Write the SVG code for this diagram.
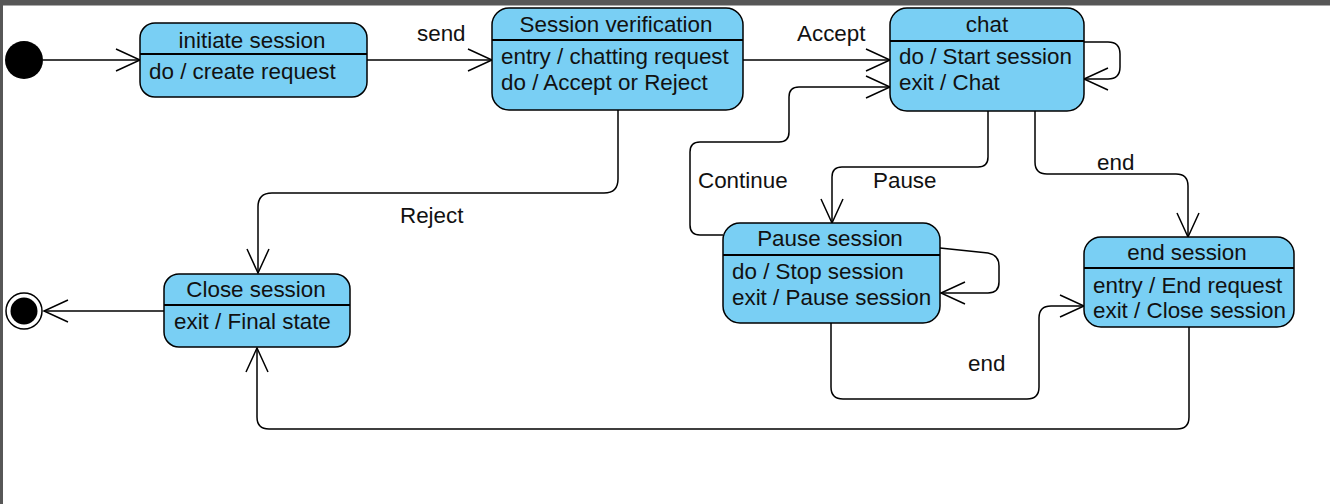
<svg xmlns="http://www.w3.org/2000/svg" width="1330" height="504" viewBox="0 0 1330 504">
<style>
.st{fill:#79cff4;stroke:#000;stroke-width:1.5}
.dv{stroke:#000;stroke-width:2}
.t{font-family:"Liberation Sans",Arial,sans-serif;font-size:22.4px;fill:#111}
.c{text-anchor:middle}
.cn{fill:none;stroke:#000;stroke-width:1.5}
</style>
<defs>
<marker id="ah" viewBox="-27 -14 30 28" markerWidth="30" markerHeight="28" refX="0" refY="0" orient="auto" markerUnits="userSpaceOnUse">
<path d="M-24,-11 L0,0 L-24,11" fill="none" stroke="#000" stroke-width="1.5"/>
</marker>
</defs>
<rect x="0" y="0" width="1330" height="504" fill="#fff"/>
<rect x="0" y="0" width="1330" height="5.5" fill="#575757"/>
<rect x="0" y="0" width="3" height="504" fill="#575757"/>

<g id="connectors" class="cn">
<path d="M43,60 L140,60" marker-end="url(#ah)"/>
<path d="M367,60 L492,60" marker-end="url(#ah)"/>
<path d="M743,60 L890,60" marker-end="url(#ah)"/>
<path d="M1084,42 L1108,42 Q1120,42 1120,54 L1120,67 Q1120,79 1108,79 L1084,79" marker-end="url(#ah)"/>
<path d="M723,235 L700,235 Q690,235 690,225 L690,152 Q690,142 700,142 L779,142 Q789,142 789,132 L789,97 Q789,87 799,87 L890,87" marker-end="url(#ah)"/>
<path d="M988,111 L988,157 Q988,167 978,167 L842,167 Q832,167 832,177 L832,223" marker-end="url(#ah)"/>
<path d="M940,248 L988,253 Q999,255 999,266 L999,282 Q999,293 988,293 L941,293" marker-end="url(#ah)"/>
<path d="M1035,111 L1035,162 Q1035,174 1047,174 L1176,174 Q1188,174 1188,186 L1188,237" marker-end="url(#ah)"/>
<path d="M831,323 L831,387 Q831,399 843,399 L1027,399 Q1039,399 1039,387 L1039,318 Q1039,306 1051,306 L1084,306" marker-end="url(#ah)"/>
<path d="M1189,327 L1189,417 Q1189,429 1177,429 L269,429 Q257,429 257,417 L257,348" marker-end="url(#ah)"/>
<path d="M618,110 L618,179 Q618,193 604,193 L272,193 Q258,193 258,207 L258,273" marker-end="url(#ah)"/>
<path d="M164,311 L44,311" marker-end="url(#ah)"/>
</g>

<g id="labels" class="t">
<text x="417" y="41">send</text>
<text x="797" y="41">Accept</text>
<text x="698" y="188">Continue</text>
<text x="873" y="188">Pause</text>
<text x="1097" y="170">end</text>
<text x="400" y="223">Reject</text>
<text x="968" y="371">end</text>
</g>

<g id="initial">
<circle cx="24" cy="60" r="19" fill="#000"/>
</g>

<g id="final">
<circle cx="24" cy="311" r="18" fill="#fff" stroke="#000" stroke-width="1.5"/>
<circle cx="24" cy="311" r="13.5" fill="#000"/>
</g>

<g id="initiate-session">
<rect class="st" x="140" y="23" width="227" height="74" rx="15"/>
<line class="dv" x1="140" y1="54" x2="367" y2="54"/>
<text class="t c" x="252" y="47.5">initiate session</text>
<text class="t" x="149" y="79">do / create request</text>
</g>

<g id="session-verification">
<rect class="st" x="492" y="8" width="251" height="102" rx="17"/>
<line class="dv" x1="492" y1="40" x2="743" y2="40"/>
<text class="t c" x="616" y="31.5">Session verification</text>
<text class="t" x="501" y="64">entry / chatting request</text>
<text class="t" x="501" y="90">do / Accept or Reject</text>
</g>

<g id="chat">
<rect class="st" x="890" y="8" width="194" height="103" rx="17"/>
<line class="dv" x1="890" y1="41" x2="1084" y2="41"/>
<text class="t c" x="987" y="31.5">chat</text>
<text class="t" x="899" y="64">do / Start session</text>
<text class="t" x="899" y="90">exit / Chat</text>
</g>

<g id="pause-session">
<rect class="st" x="723" y="223" width="217" height="100" rx="17"/>
<line class="dv" x1="723" y1="255" x2="940" y2="255"/>
<text class="t c" x="830" y="245.5">Pause session</text>
<text class="t" x="732" y="279">do / Stop session</text>
<text class="t" x="732" y="305">exit / Pause session</text>
</g>

<g id="end-session">
<rect class="st" x="1084" y="237" width="210" height="90" rx="17"/>
<line class="dv" x1="1084" y1="268" x2="1294" y2="268"/>
<text class="t c" x="1187" y="260">end session</text>
<text class="t" x="1093" y="293">entry / End request</text>
<text class="t" x="1093" y="318">exit / Close session</text>
</g>

<g id="close-session">
<rect class="st" x="164" y="274" width="186" height="73" rx="15"/>
<line class="dv" x1="164" y1="305" x2="350" y2="305"/>
<text class="t c" x="256" y="297">Close session</text>
<text class="t" x="174" y="329">exit / Final state</text>
</g>
</svg>
